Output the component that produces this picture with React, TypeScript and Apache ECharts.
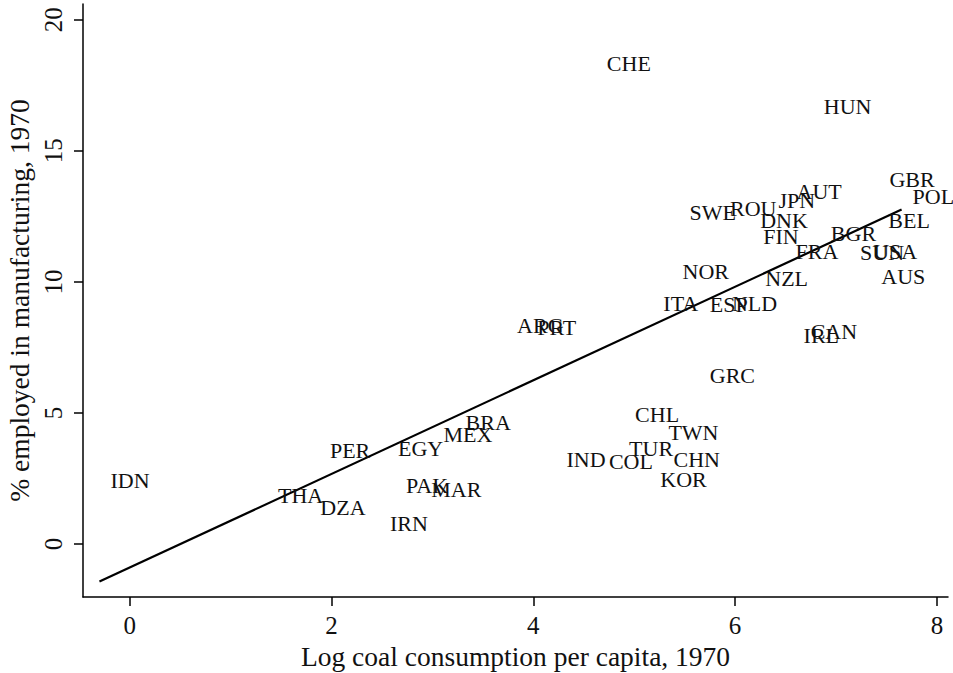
import React, { useEffect, useRef } from "react";
import * as echarts from "echarts";

const countries = [
  "CHE", "HUN", "GBR", "POL", "AUT", "JPN", "SWE", "ROU", "DNK", "BEL",
  "FIN", "BGR", "FRA", "SUN", "USA", "NOR", "NZL", "AUS", "ITA", "ESP",
  "NLD", "ARG", "PRT", "IRL", "CAN", "GRC", "CHL", "TWN", "TUR", "IND",
  "COL", "CHN", "KOR", "IDN", "PER", "EGY", "MEX", "BRA", "THA", "DZA",
  "PAK", "MAR", "IRN",
];
const logCoal = [
  4.62, 6.77, 7.42, 7.65, 6.5, 6.32, 5.44, 5.84, 6.14, 7.41,
  6.17, 6.84, 6.49, 7.13, 7.26, 5.37, 6.19, 7.34, 5.18, 5.64,
  5.86, 3.73, 3.93, 6.57, 6.64, 5.64, 4.9, 5.23, 4.84, 4.22,
  4.64, 5.28, 5.15, -0.3, 1.875, 2.55, 3.0, 3.22, 1.36, 1.78,
  2.63, 2.88, 2.47,
];
const mfgShare = [
  18.33, 16.68, 13.9, 13.24, 13.45, 13.11, 12.63, 12.8, 12.35, 12.35,
  11.72, 11.84, 11.15, 11.11, 11.17, 10.4, 10.13, 10.19, 9.17, 9.13,
  9.17, 8.34, 8.27, 7.96, 8.09, 6.43, 4.93, 4.24, 3.64, 3.22,
  3.14, 3.22, 2.48, 2.43, 3.57, 3.66, 4.16, 4.62, 1.85, 1.41,
  2.24, 2.08, 0.79,
];
const xTicks = [0, 2, 4, 6, 8];
const yTicks = [0, 5, 10, 15, 20];
const fitX = [-0.3, 7.65];
const fitY = [-1.43, 12.76];

const FONT = "Liberation Serif";
const TXT = "#111111";

export default function App() {
  const ref = useRef<HTMLDivElement>(null);
  useEffect(() => {
    const chart = echarts.init(ref.current!, null, { renderer: "svg" });
    chart.setOption({
      animation: false,
      backgroundColor: "#ffffff",
      grid: { left: 83, top: 4, right: 5, bottom: 76, outerBoundsMode: "none", containLabel: false },
      xAxis: {
        type: "value",
        min: -0.463,
        max: 8.11,
        name: "Log coal consumption per capita, 1970",
        nameLocation: "middle",
        nameGap: 43,
        nameTextStyle: { fontFamily: FONT, fontSize: 27.5, color: TXT },
        splitLine: { show: false },
        axisLine: { show: true, onZero: false, lineStyle: { color: "#000", width: 1.5 } },
        axisTick: { show: true, length: 9, customValues: xTicks, lineStyle: { color: "#000", width: 1.5 } },
        axisLabel: {
          customValues: xTicks,
          fontFamily: FONT,
          fontSize: 25,
          color: TXT,
          margin: 16,
        },
      },
      yAxis: {
        type: "value",
        min: -2.02,
        max: 20.6,
        name: "% employed in manufacturing, 1970",
        nameLocation: "middle",
        nameGap: 48,
        nameTextStyle: { fontFamily: FONT, fontSize: 27.5, color: TXT },
        splitLine: { show: false },
        axisLine: { show: true, onZero: false, lineStyle: { color: "#000", width: 1.5 } },
        axisTick: { show: true, length: 9, customValues: yTicks, lineStyle: { color: "#000", width: 1.5 } },
        axisLabel: {
          customValues: yTicks,
          rotate: 90,
          fontFamily: FONT,
          fontSize: 25,
          color: TXT,
          margin: 17,
        },
      },
      series: [
        {
          type: "scatter",
          symbolSize: 1,
          data: logCoal.map((x, i) => [x, mfgShare[i], countries[i]]),
          label: {
            show: true,
            position: "right",
            distance: 10.5,
            formatter: (p: any) => p.data[2],
            fontFamily: FONT,
            fontSize: 22,
            color: TXT,
            opacity: 1,
          },
          labelLayout: { hideOverlap: false },
          itemStyle: { color: "rgba(0,0,0,0)" },
          emphasis: { disabled: true },
          z: 3,
        },
        {
          type: "line",
          data: fitX.map((x, i) => [x, fitY[i]]),
          symbol: "none",
          lineStyle: { color: "#000", width: 2.2 },
          z: 2,
        },
      ],
    });
    return () => chart.dispose();
  }, []);
  return (
    <div
      ref={ref}
      style={{ position: "fixed", left: 0, top: 0, width: 953, height: 673 }}
    />
  );
}
